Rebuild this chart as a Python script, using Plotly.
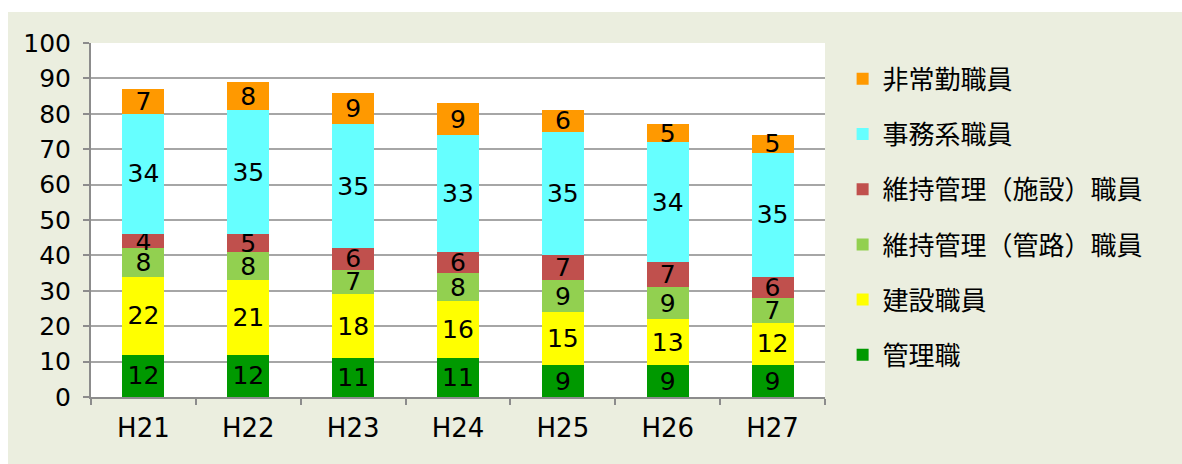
import plotly.graph_objects as go

years = ["H21", "H22", "H23", "H24", "H25", "H26", "H27"]
series_names = ["管理職", "建設職員", "維持管理（管路）職員", "維持管理（施設）職員", "事務系職員", "非常勤職員"]
kanri = [12, 12, 11, 11, 9, 9, 9]
kensetsu = [22, 21, 18, 16, 15, 13, 12]
kanro = [8, 8, 7, 8, 9, 9, 7]
shisetsu = [4, 5, 6, 6, 7, 7, 6]
jimu = [34, 35, 35, 33, 35, 34, 35]
hijoukin = [7, 8, 9, 9, 6, 5, 5]
colors = ["#009900", "#FFFF00", "#92D050", "#C0504D", "#66FFFF", "#FF9900"]
y_ticks = [0, 10, 20, 30, 40, 50, 60, 70, 80, 90, 100]

values = [kanri, kensetsu, kanro, shisetsu, jimu, hijoukin]
NUM_FONT = "DejaVu Sans, Noto Sans CJK JP"
JP_FONT = "Noto Sans CJK JP, DejaVu Sans"

fig = go.Figure()
n = len(series_names)
for i, (name, vals, col) in enumerate(zip(series_names, values, colors)):
    fig.add_trace(go.Bar(
        x=years, y=vals, name=name, legendgroup=name, legendrank=n - i,
        marker=dict(color=col, line=dict(width=0)),
        text=[str(v) for v in vals], textposition="inside",
        insidetextanchor="middle", textangle=0, constraintext="none",
        textfont=dict(family=NUM_FONT, size=25, color="#000000"),
        width=0.4, hoverinfo="skip",
    ))

fig.update_layout(
    barmode="stack",
    width=1182, height=464,
    margin=dict(l=91, r=357, t=43, b=67),
    paper_bgcolor="#EBEEDF",
    plot_bgcolor="#FFFFFF",
    showlegend=True,
    legend=dict(
        x=1.024, y=0.965, xanchor="left", yanchor="top",
        traceorder="grouped", tracegroupgap=18.4,
        font=dict(family=JP_FONT, size=26, color="#000000"),
        bgcolor="rgba(0,0,0,0)", itemclick=False,
    ),
    xaxis=dict(
        type="category", showline=True, linecolor="#8C8C8C", linewidth=2,
        ticks="outside", tickson="boundaries", ticklen=6, tickcolor="#8C8C8C", tickwidth=2,
        tickfont=dict(family=NUM_FONT, size=26, color="#000000"),
        ticklabelstandoff=7, showgrid=False,
    ),
    yaxis=dict(
        range=[0, 100], tickvals=y_ticks, showline=True, linecolor="#8C8C8C", linewidth=2,
        ticks="outside", ticklen=6, tickcolor="#8C8C8C", tickwidth=2,
        showgrid=True, gridcolor="#A6A6A6", gridwidth=1.5, zeroline=False,
        tickfont=dict(family=NUM_FONT, size=25, color="#000000"),
        ticklabelstandoff=7,
    ),
    shapes=[
        # white strip above the green panel
        dict(type="rect", xref="paper", yref="paper", x0=-0.2, x1=1.6,
             y0=(397 - 12) / 354, y1=1.3, fillcolor="#FFFFFF", line=dict(width=0), layer="below"),
        # white strip left of the green panel
        dict(type="rect", xref="paper", yref="paper", x0=-0.2, x1=(8 - 91) / 734,
             y0=-0.3, y1=1.3, fillcolor="#FFFFFF", line=dict(width=0), layer="below"),
    ],
)

fig.write_html(
    "out.html",
    config={"displayModeBar": False},
    post_script="document.body.style.margin='0';document.body.style.overflow='hidden';",
)
